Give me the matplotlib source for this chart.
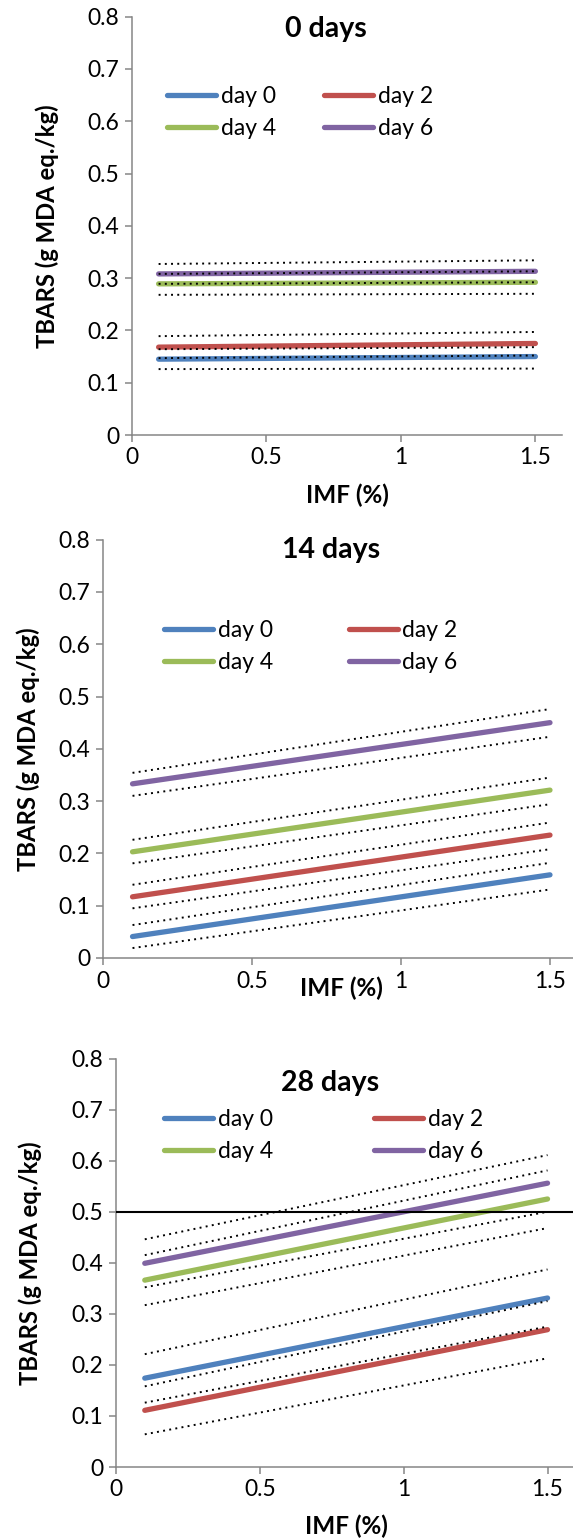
import numpy as np
import matplotlib
matplotlib.use('Agg')
import matplotlib.pyplot as plt

plt.rcParams['font.family'] = ['Lato', 'DejaVu Sans']

W, H = 573, 1539

# IMF (%) range of the fitted lines
imf = [0.1, 1.5]
series_names = ['day 0', 'day 2', 'day 4', 'day 6']
colors = ['#4F81BD', '#C0504D', '#9BBB59', '#8064A2']

# fitted TBARS at IMF 0.1 and 1.5, with lower / upper confidence limits
fit_0d = [[0.145, 0.150], [0.168, 0.175], [0.289, 0.292], [0.308, 0.313]]
lo_0d = [[0.126, 0.127], [0.147, 0.152], [0.268, 0.270], [0.289, 0.292]]
hi_0d = [[0.164, 0.168], [0.189, 0.197], [0.308, 0.313], [0.327, 0.334]]

fit_14d = [[0.041, 0.159], [0.117, 0.235], [0.203, 0.321], [0.333, 0.450]]
lo_14d = [[0.019, 0.131], [0.095, 0.208], [0.181, 0.294], [0.310, 0.423]]
hi_14d = [[0.063, 0.182], [0.140, 0.259], [0.226, 0.345], [0.354, 0.476]]

fit_28d = [[0.174, 0.331], [0.111, 0.269], [0.366, 0.525], [0.399, 0.556]]
lo_28d = [[0.126, 0.275], [0.064, 0.213], [0.317, 0.468], [0.352, 0.500]]
hi_28d = [[0.221, 0.387], [0.158, 0.325], [0.415, 0.581], [0.446, 0.611]]

limit_28d = 0.5

titles = ['0 days', '14 days', '28 days']

# pixel layout: (left, right at x=1.6, top at y=0.8, bottom at y=0)
boxes = [(131.7, 562.3, 16.6, 435.0),
         (102.7, 579.8, 539.6, 958.0),
         (116.0, 576.3, 1058.6, 1467.0)]
title_pos = [(326, 29), (331, 550), (330, 1083)]
xlabel_y = [495, 988, 1526]
ylabel_x = [47, 28, 30]
legend_pos = [(167, 97), (164, 631), (164, 1120)]
col_space = [2.1, 3.3, 4.4]

fig = plt.figure(figsize=(W / 100, H / 100), dpi=100)

panels = [(fit_0d, lo_0d, hi_0d), (fit_14d, lo_14d, hi_14d), (fit_28d, lo_28d, hi_28d)]
grey = '#868686'
fs = 16.5

for i, (fit, lo, hi) in enumerate(panels):
    l, r, t, b = boxes[i]
    ax = fig.add_axes([l / W, 1 - b / H, (r - l) / W, (b - t) / H])

    handles = []
    for name, c, y in zip(series_names, colors, fit):
        h, = ax.plot(imf, y, color=c, lw=3.8, solid_capstyle='round', label=name, zorder=3)
        handles.append(h)
    for y1, y2 in zip(lo, hi):
        ax.plot(imf, y1, color='black', lw=1.4, ls=(0, (1, 2.2)), zorder=4)
        ax.plot(imf, y2, color='black', lw=1.4, ls=(0, (1, 2.2)), zorder=4)
    if i == 2:
        ax.axhline(limit_28d, color='black', lw=1.5, zorder=5)

    ax.set_xlim(0, 1.6)
    ax.set_ylim(0, 0.8)
    ax.set_xticks([0, 0.5, 1, 1.5])
    ax.set_xticklabels(['0', '0.5', '1', '1.5'])
    ax.set_yticks(np.arange(0, 0.81, 0.1))
    ax.set_yticklabels(['0', '0.1', '0.2', '0.3', '0.4', '0.5', '0.6', '0.7', '0.8'])
    for s in ['top', 'right']:
        ax.spines[s].set_visible(False)
    for s in ['left', 'bottom']:
        ax.spines[s].set_color(grey)
        ax.spines[s].set_linewidth(1.1)
    ax.tick_params(direction='out', length=5, width=1.1, color=grey,
                   labelsize=fs, pad=4)

    fig.text(title_pos[i][0] / W, 1 - title_pos[i][1] / H, titles[i],
             ha='center', va='center', fontsize=20.5, fontweight='bold')
    fig.text((l + (r - l) / 1.6 * 0.8) / W, 1 - xlabel_y[i] / H, 'IMF (%)',
             ha='center', va='center', fontsize=17.5, fontweight='bold')
    fig.text(ylabel_x[i] / W, 1 - ((t + b) / 2) / H, 'TBARS (g MDA eq./kg)',
             ha='center', va='center', rotation=90, fontsize=17.2, fontweight='bold')

    # row-wise order: day 0, day 2 / day 4, day 6
    order = [0, 2, 1, 3]
    lx, ly = legend_pos[i]
    ax.legend([handles[k] for k in order], [series_names[k] for k in order],
              ncol=2, frameon=False, fontsize=fs, loc='upper left',
              bbox_to_anchor=(lx / W, 1 - (ly - 11) / H), bbox_transform=fig.transFigure,
              borderpad=0, borderaxespad=0, handlelength=2.15, handletextpad=0.2,
              columnspacing=col_space[i], labelspacing=0.47)

fig.savefig('out.png', dpi=100)
